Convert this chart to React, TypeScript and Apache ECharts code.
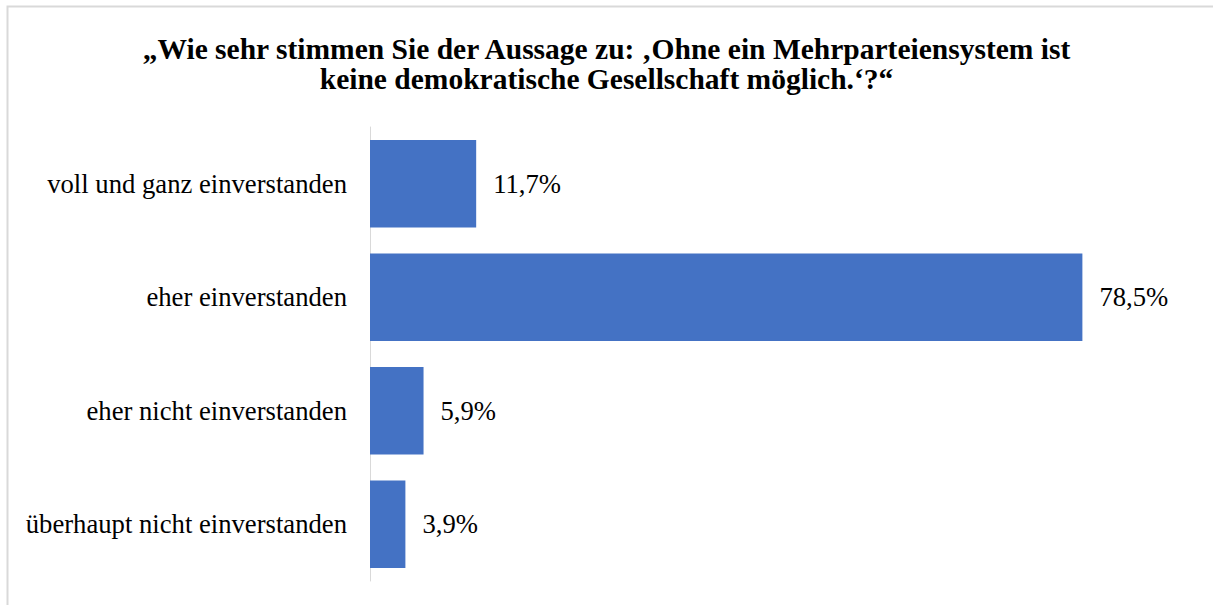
import React, { useEffect, useRef } from "react";
import * as echarts from "echarts";

const titleText =
  "\u201EWie sehr stimmen Sie der Aussage zu: \u201AOhne ein Mehrparteiensystem ist\nkeine demokratische Gesellschaft m\u00F6glich.\u2018?\u201C";
const categories = [
  "voll und ganz einverstanden",
  "eher einverstanden",
  "eher nicht einverstanden",
  "\u00FCberhaupt nicht einverstanden",
];
const values = [11.7, 78.5, 5.9, 3.9];

const FONT = "Liberation Serif";

export default function App() {
  const ref = useRef<HTMLDivElement>(null);
  useEffect(() => {
    if (!ref.current) return;
    const chart = echarts.init(ref.current, null, { renderer: "svg" });
    chart.setOption({
      animation: false,
      backgroundColor: "#ffffff",
      textStyle: { fontFamily: FONT },
      graphic: [
        {
          type: "rect",
          shape: { x: 7.5, y: 6.5, width: 1300, height: 700 },
          style: { fill: "none", stroke: "#d9d9d9", lineWidth: 2 },
          silent: true,
        },
      ],
      title: {
        text: titleText,
        left: "center",
        top: 29,
        textStyle: {
          fontFamily: FONT,
          fontWeight: "bold",
          fontSize: 29.5,
          lineHeight: 30,
          color: "#000000",
        },
      },
      grid: { left: 370, right: 117, top: 127, bottom: 24, containLabel: false },
      xAxis: {
        type: "value",
        min: 0,
        max: 80,
        show: false,
      },
      yAxis: {
        type: "category",
        data: categories,
        inverse: true,
        axisLine: { show: true, lineStyle: { color: "#d9d9d9", width: 1 } },
        axisTick: { show: false },
        axisLabel: {
          margin: 23,
          fontFamily: FONT,
          fontSize: 26.67,
          color: "#000000",
        },
      },
      series: [
        {
          type: "bar",
          data: values,
          barCategoryGap: "23%",
          itemStyle: { color: "#4472C4" },
          label: {
            show: true,
            position: "right",
            distance: 17,
            fontFamily: FONT,
            fontSize: 26.67,
            color: "#000000",
            formatter: (p: any) => p.value.toFixed(1).replace(".", ",") + "%",
          },
        },
      ],
    });
    return () => chart.dispose();
  }, []);
  return (
    <div style={{ position: "fixed", left: 0, top: 0, width: 1213, height: 605, overflow: "hidden", background: "#fff" }}>
      <div ref={ref} style={{ width: 1213, height: 605 }} />
    </div>
  );
}
